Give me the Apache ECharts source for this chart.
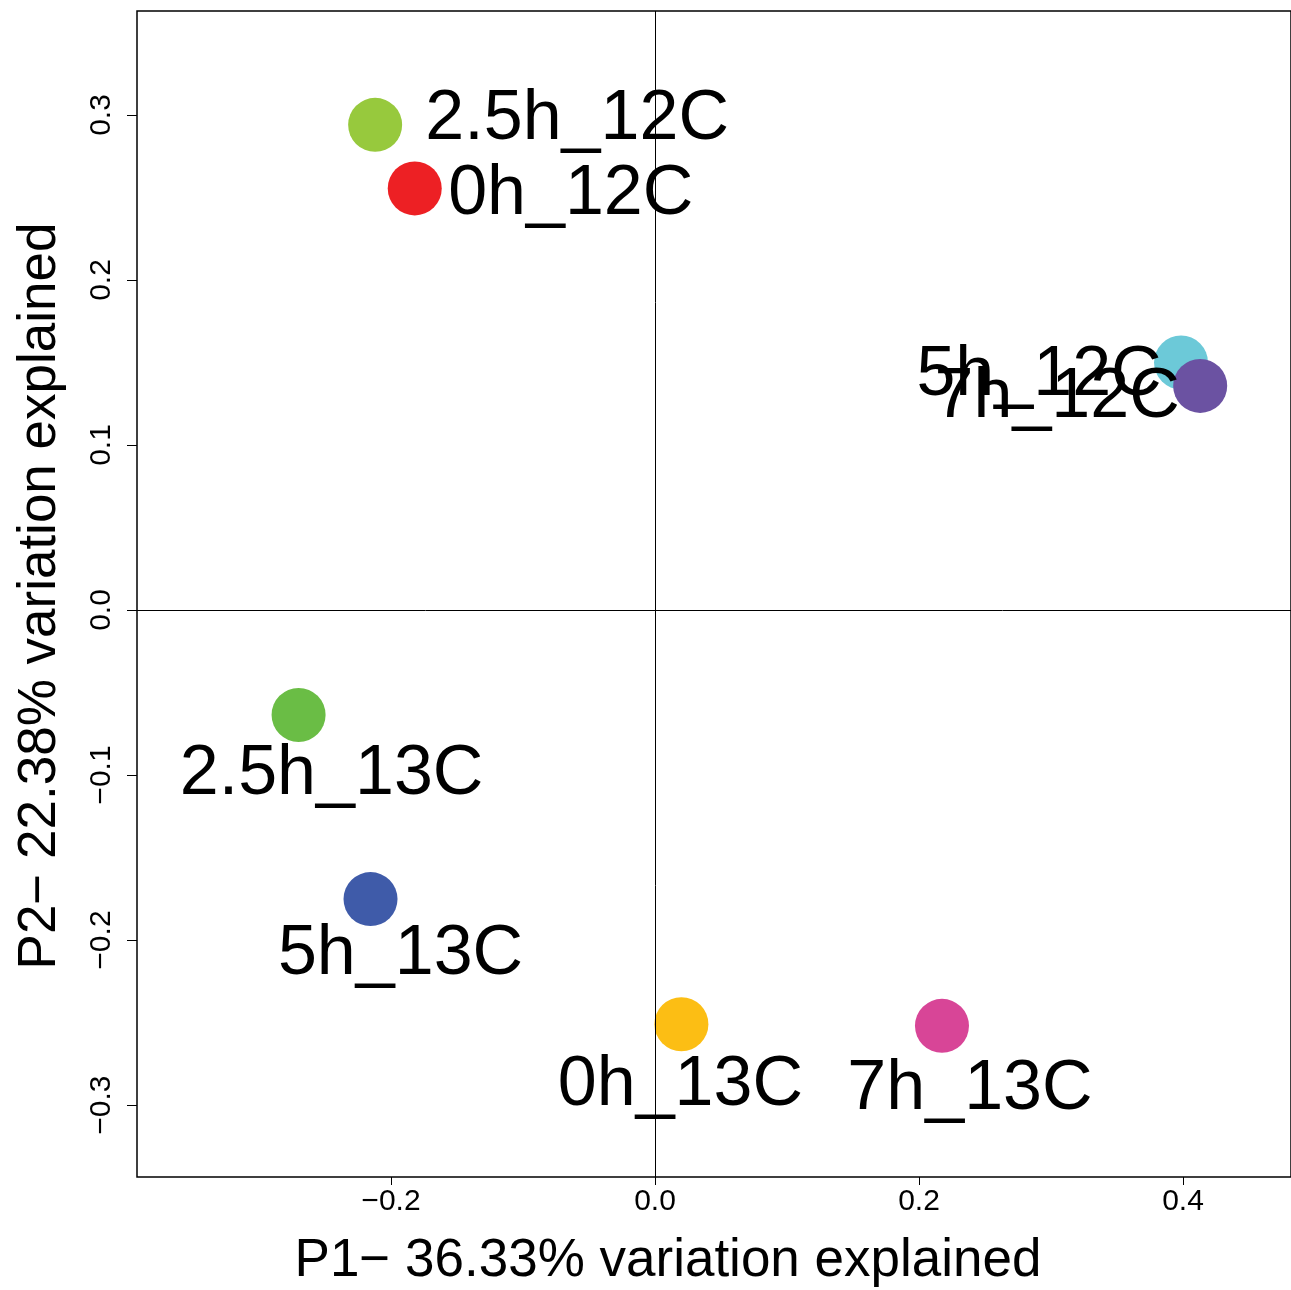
<!DOCTYPE html>
<html>
<head>
<meta charset="utf-8">
<title>PCA</title>
<script src="https://cdn.jsdelivr.net/npm/echarts@6/dist/echarts.min.js"></script>
<style>
html, body { margin: 0; padding: 0; background: #fff; }
#chart { width: 1291px; height: 1290px; }
</style>
</head>
<body>
<div id="chart"></div>
<script>
// sample scores on the first two principal components
const sampleNames = ["0h_12C", "2.5h_12C", "5h_12C", "7h_12C", "0h_13C", "2.5h_13C", "5h_13C", "7h_13C"];
const pc1 = [-0.182, -0.212, 0.3985, 0.413, 0.020, -0.270, -0.2155, 0.2174];
const pc2 = [0.2555, 0.294, 0.150, 0.1358, -0.251, -0.0636, -0.1752, -0.252];
const xTicks = [-0.2, 0.0, 0.2, 0.4];
const yTicks = [-0.3, -0.2, -0.1, 0.0, 0.1, 0.2, 0.3];
const xTitle = "P1\u2212 36.33% variation explained";
const yTitle = "P2\u2212 22.38% variation explained";

// styling
const pointColors = ["#ED2024", "#97C93D", "#6CC9D8", "#6B52A2", "#FCBE14", "#6ABD45", "#3F5BA9", "#D84597"];
const labelOffsets = [[156, 6], [202, -5], [-142, 13], [-143, 12], [-1, 62], [33, 60], [30, 56], [28, 64]];
const fontFamily = "'Liberation Sans', Arial, sans-serif";
const dotSize = 54;

let chart = echarts.init(document.getElementById("chart"), null, { renderer: "canvas" });

let tickFmt = function(v) {
    return Number(v).toFixed(1).replace("-", "\u2212");
};

let points = sampleNames.map(function(name, i) {
    return {
        name: name,
        value: [pc1[i], pc2[i]],
        itemStyle: { color: pointColors[i], opacity: 1 },
        label: {
            show: true,
            position: [dotSize / 2 + labelOffsets[i][0], dotSize / 2 + labelOffsets[i][1]],
            formatter: "{b}",
            color: "#000",
            fontSize: 70,
            fontFamily: fontFamily,
            align: "center",
            verticalAlign: "middle"
        }
    };
});

let option = {
    animation: false,
    grid: {
        left: 137,
        right: 0,
        top: 11,
        bottom: 113,
        show: true,
        borderColor: "#000",
        borderWidth: 1.5,
        backgroundColor: "transparent"
    },
    xAxis: {
        type: "value",
        min: -0.3924,
        max: 0.4818,
        axisLine: { show: false, onZero: false },
        splitLine: { show: false },
        axisTick: {
            show: true,
            inside: false,
            length: 8,
            customValues: xTicks,
            lineStyle: { color: "#000", width: 1 }
        },
        axisLabel: {
            customValues: xTicks,
            formatter: tickFmt,
            margin: 10,
            color: "#000",
            fontSize: 30,
            fontFamily: fontFamily
        }
    },
    yAxis: {
        type: "value",
        min: -0.3436,
        max: 0.3630,
        axisLine: { show: false, onZero: false },
        splitLine: { show: false },
        axisTick: {
            show: true,
            inside: false,
            length: 10,
            customValues: yTicks,
            lineStyle: { color: "#000", width: 1 }
        },
        axisLabel: {
            customValues: yTicks,
            formatter: tickFmt,
            rotate: 90,
            margin: 20,
            color: "#000",
            fontSize: 30,
            fontFamily: fontFamily
        }
    },
    graphic: [
        {
            type: "text",
            x: 668,
            y: 1261,
            style: {
                text: xTitle,
                fill: "#000",
                font: "53px " + fontFamily,
                textAlign: "center",
                textVerticalAlign: "middle"
            }
        },
        {
            type: "text",
            x: 40,
            y: 596,
            rotation: Math.PI / 2,
            style: {
                text: yTitle,
                fill: "#000",
                font: "53px " + fontFamily,
                textAlign: "center",
                textVerticalAlign: "middle"
            }
        }
    ],
    series: [
        {
            type: "scatter",
            symbol: "circle",
            symbolSize: dotSize,
            itemStyle: { opacity: 1 },
            data: points,
            labelLayout: { hideOverlap: false },
            emphasis: { disabled: true },
            markLine: {
                silent: true,
                symbol: "none",
                label: { show: false },
                lineStyle: { color: "#000", width: 1, type: "solid" },
                data: [{ xAxis: 0 }, { yAxis: 0 }]
            }
        }
    ]
};

chart.setOption(option, true);
</script>
</body>
</html>
